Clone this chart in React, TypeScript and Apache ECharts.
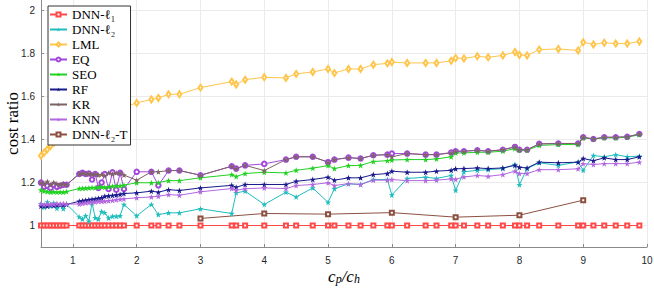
import React, { useEffect, useRef } from "react";
import * as echarts from "echarts";

const X = [
  0.5, 0.55, 0.6, 0.65, 0.7, 0.75, 0.8, 0.85, 0.9,
  1.1, 1.15, 1.2, 1.25, 1.3, 1.35, 1.4, 1.45,
  1.5, 1.56, 1.62, 1.68, 1.74, 1.8,
  2.0, 2.23, 2.34, 2.5, 2.67,
  3.0, 3.49, 3.56, 3.7,
  4.0, 4.34, 4.5, 4.76,
  5.0, 5.1, 5.32, 5.51, 5.71, 5.93,
  6.0, 6.24, 6.53, 6.7, 6.93,
  7.0, 7.13, 7.34, 7.51, 7.74, 7.93,
  8.0, 8.12, 8.31, 8.61, 8.92,
  9.0, 9.16, 9.33, 9.51, 9.69, 9.88,
];

const DNN_L1 = [
  1, 1, 1, 1, 1, 1, 1, 1, 1,
  1, 1, 1, 1, 1, 1, 1, 1,
  1, 1, 1, 1, 1, 1,
  1, 1, 1, 1, 1,
  1, 1, 1, 1,
  1, 1, 1, 1,
  1, 1, 1, 1, 1, 1,
  1, 1, 1, 1, 1,
  1, 1, 1, 1, 1, 1,
  1, 1, 1, 1, 1,
  1, 1, 1, 1, 1, 1,
];

const DNN_L2 = [
  1.1, 1.085, 1.11, 1.09, 1.105, 1.08, 1.095, 1.078, 1.1,
  1.04, 1.03, 1.045, 1.02, 1.106, 1.036, 1.03, 1.065,
  1.06, 1.035, 1.043, 1.043, 1.045, 1.098,
  1.045, 1.098, 1.051, 1.059, 1.059,
  1.078, 1.056, 1.152, 1.16,
  1.098, 1.155, 1.133, 1.175,
  1.108, 1.171, 1.194, 1.191, 1.214, 1.214,
  1.142, 1.219, 1.225, 1.219, 1.233,
  1.164, 1.25, 1.257, 1.26, 1.265, 1.284,
  1.19, 1.265, 1.292, 1.28, 1.296,
  1.257, 1.326, 1.32, 1.33, 1.32, 1.323,
];

const LML = [
  1.325, 1.34, 1.355, 1.37, 1.385, 1.395, 1.405, 1.415, 1.42,
  1.45, 1.46, 1.47, 1.48, 1.49, 1.495, 1.5, 1.505,
  1.51, 1.52, 1.525, 1.535, 1.54, 1.55,
  1.571, 1.587, 1.594, 1.611, 1.611,
  1.642, 1.67, 1.657, 1.679,
  1.69, 1.687, 1.706, 1.715,
  1.729, 1.71, 1.729, 1.729, 1.749, 1.755,
  1.761, 1.757, 1.757, 1.757, 1.767,
  1.78, 1.778, 1.788, 1.783, 1.792, 1.808,
  1.794, 1.792, 1.819, 1.822, 1.815,
  1.853, 1.843, 1.851, 1.847, 1.847, 1.857,
];

const EQ = [
  1.2, 1.18, 1.185, 1.175, 1.19, 1.18, 1.185, 1.19, 1.19,
  1.24, 1.245, 1.24, 1.242, 1.214, 1.24, 1.175, 1.2,
  1.24, 1.17, 1.248, 1.167, 1.245, 1.17,
  1.25, 1.25, 1.187, 1.256, 1.256,
  1.234, 1.276, 1.265, 1.28,
  1.287, 1.307, 1.32, 1.32,
  1.295, 1.307, 1.316, 1.312, 1.327, 1.33,
  1.335, 1.335, 1.33, 1.33, 1.34,
  1.346, 1.346, 1.35, 1.346, 1.353, 1.366,
  1.353, 1.353, 1.38, 1.382, 1.382,
  1.411, 1.403, 1.411, 1.411, 1.413, 1.426,
];

const SEO = [
  1.165, 1.16, 1.158, 1.155, 1.157, 1.155, 1.156, 1.155, 1.158,
  1.172, 1.173, 1.174, 1.175, 1.177, 1.176, 1.179, 1.18,
  1.178, 1.18, 1.183, 1.185, 1.185, 1.188,
  1.199, 1.199, 1.2, 1.209, 1.209,
  1.222, 1.237, 1.228, 1.242,
  1.248, 1.245, 1.257, 1.267,
  1.279, 1.265, 1.279, 1.28, 1.298, 1.302,
  1.305, 1.307, 1.307, 1.31, 1.32,
  1.338, 1.338, 1.341, 1.341, 1.346, 1.358,
  1.35, 1.35, 1.373, 1.377, 1.377,
  1.408, 1.403, 1.408, 1.408, 1.411, 1.423,
];

const RF = [
  1.09, 1.092, 1.09, 1.095, 1.093, 1.095, 1.097, 1.096, 1.098,
  1.113, 1.115, 1.118, 1.12, 1.122, 1.124, 1.127, 1.129,
  1.136, 1.138, 1.14, 1.142, 1.145, 1.149,
  1.152, 1.16, 1.155, 1.167, 1.163,
  1.175, 1.187, 1.178, 1.191,
  1.191, 1.191, 1.206, 1.214,
  1.225, 1.211, 1.222, 1.222, 1.237, 1.242,
  1.253, 1.248, 1.248, 1.253, 1.257,
  1.264, 1.265, 1.268, 1.265, 1.268, 1.28,
  1.271, 1.268, 1.295, 1.292, 1.295,
  1.312, 1.302, 1.315, 1.307, 1.307, 1.32,
];

const KR = [
  1.2, 1.195, 1.205, 1.19, 1.2, 1.195, 1.19, 1.195, 1.19,
  1.24, 1.245, 1.24, 1.242, 1.238, 1.24, 1.235, 1.238,
  1.232, 1.245, 1.24, 1.245, 1.245, 1.235,
  1.211, 1.25, 1.25, 1.256, 1.256,
  1.234, 1.276, 1.265, 1.28,
  1.256, 1.307, 1.32, 1.32,
  1.295, 1.307, 1.316, 1.312, 1.327, 1.33,
  1.32, 1.335, 1.33, 1.33, 1.338,
  1.346, 1.346, 1.35, 1.346, 1.353, 1.366,
  1.353, 1.353, 1.38, 1.382, 1.382,
  1.411, 1.403, 1.411, 1.411, 1.413, 1.426,
];

const KNN = [
  1.1, 1.097, 1.1, 1.098, 1.1, 1.102, 1.1, 1.103, 1.1,
  1.1, 1.103, 1.105, 1.107, 1.108, 1.11, 1.112, 1.113,
  1.113, 1.115, 1.117, 1.12, 1.122, 1.124,
  1.129, 1.133, 1.136, 1.144, 1.141,
  1.157, 1.172, 1.164, 1.171,
  1.175, 1.172, 1.186, 1.191,
  1.199, 1.186, 1.195, 1.191, 1.211, 1.211,
  1.214, 1.209, 1.209, 1.211, 1.217,
  1.215, 1.226, 1.233, 1.229, 1.237, 1.253,
  1.242, 1.242, 1.26, 1.26, 1.264,
  1.288, 1.284, 1.288, 1.288, 1.288, 1.295,
];

const T_X = [3, 4, 5, 6, 7, 8, 9];
const DNN_L2_T = [1.033, 1.056, 1.053, 1.06, 1.039, 1.048, 1.118];

const X_TICKS = [1, 2, 3, 4, 5, 6, 7, 8, 9, 10];
const Y_TICKS = [1, 1.2, 1.4, 1.6, 1.8, 2];

const STAR =
  "path://M0,-10L2.35,-3.24L9.51,-3.09L3.8,1.24L5.88,8.09L0,4L-5.88,8.09L-3.8,1.24L-9.51,-3.09L-2.35,-3.24Z";

const SERIES_DEF = [
  { name: "DNN-ℓ₁", xs: X, ys: DNN_L1, color: "#ff4848", symbol: "emptyRect", size: 4 },
  { name: "DNN-ℓ₂", xs: X, ys: DNN_L2, color: "#1fbdbd", symbol: STAR, size: 6 },
  { name: "LML", xs: X, ys: LML, color: "#ffc44a", symbol: "emptyDiamond", size: [4, 6] },
  { name: "EQ", xs: X, ys: EQ, color: "#a347dc", symbol: "emptyCircle", size: 4.5 },
  { name: "SEO", xs: X, ys: SEO, color: "#1fd21f", symbol: STAR, size: 6 },
  { name: "RF", xs: X, ys: RF, color: "#1a1a8c", symbol: STAR, size: 6 },
  { name: "KR", xs: X, ys: KR, color: "#7d6363", symbol: STAR, size: 6 },
  { name: "KNN", xs: X, ys: KNN, color: "#b266e0", symbol: STAR, size: 6 },
  { name: "DNN-ℓ₂-T", xs: T_X, ys: DNN_L2_T, color: "#8c5040", symbol: "emptyRect", size: 4 },
];

const AXIS_COLOR = "#8a8a8a";
const GRID_COLOR = "#ebebeb";

export default function App() {
  const ref = useRef<HTMLDivElement>(null);

  useEffect(() => {
    if (!ref.current) return;
    const chart = echarts.init(ref.current, null, { renderer: "svg" });
    const series = SERIES_DEF.map((s) => ({
      name: s.name,
      type: "line",
      data: s.xs.map((x, i) => [x, s.ys[i]]),
      symbol: s.symbol,
      symbolSize: s.size,
      showSymbol: true,
      color: s.color,
      lineStyle: { color: s.color, width: 1 },
      itemStyle: { color: s.color, borderWidth: 1 },
      emphasis: { disabled: true },
      clip: true,
    }));
    chart.setOption({
      animation: false,
      backgroundColor: "#ffffff",
      grid: {
        left: 41,
        right: 7,
        top: 0,
        bottom: 42,
        containLabel: false,
        outerBoundsMode: "none",
      },
      legend: {
        orient: "vertical",
        left: 48,
        top: 6,
        backgroundColor: "#ffffff",
        borderColor: "#333333",
        borderWidth: 1,
        padding: [1, 3, 3, 1],
        itemWidth: 17,
        itemHeight: 5,
        itemGap: 0,
        selectedMode: false,
        textStyle: {
          fontFamily: "Liberation Serif",
          fontSize: 13,
          color: "#000000",
          lineHeight: 15,
        },
        data: SERIES_DEF.map((s) => s.name),
      },
      xAxis: {
        type: "value",
        min: 0.5,
        max: 10,
        name: "{i|c}{s|p}{i|/c}{s|h}",
        nameLocation: "middle",
        nameGap: 20,
        nameMoveOverlap: false,
        nameTextStyle: {
          rich: {
            i: {
              fontFamily: "Liberation Serif",
              fontStyle: "italic",
              fontSize: 17,
              lineHeight: 18,
              color: "#000",
            },
            s: {
              fontFamily: "Liberation Serif",
              fontStyle: "italic",
              fontSize: 12,
              lineHeight: 18,
              verticalAlign: "bottom",
              color: "#000",
            },
          },
        },
        axisLine: { show: true, lineStyle: { color: AXIS_COLOR, width: 1 } },
        axisTick: {
          show: true,
          inside: true,
          length: 3,
          lineStyle: { color: AXIS_COLOR },
          customValues: X_TICKS,
        },
        axisLabel: {
          customValues: X_TICKS,
          fontFamily: "Liberation Sans",
          fontSize: 10,
          color: "#262626",
          margin: 8,
        },
        splitLine: { show: true, lineStyle: { color: GRID_COLOR, width: 1 } },
      },
      yAxis: {
        type: "value",
        min: 0.9,
        max: 2.05,
        name: "cost ratio",
        nameLocation: "middle",
        nameGap: 20,
        nameMoveOverlap: false,
        nameTextStyle: {
          fontFamily: "Liberation Serif",
          fontSize: 17,
          color: "#000",
        },
        axisLine: { show: true, lineStyle: { color: AXIS_COLOR, width: 1 } },
        axisTick: {
          show: true,
          inside: true,
          length: 3,
          lineStyle: { color: AXIS_COLOR },
          customValues: Y_TICKS,
        },
        axisLabel: {
          customValues: Y_TICKS,
          fontFamily: "Liberation Sans",
          fontSize: 10,
          color: "#262626",
          margin: 6,
        },
        splitLine: { show: true, lineStyle: { color: GRID_COLOR, width: 1 } },
      },
      series,
    });
    return () => chart.dispose();
  }, []);

  return (
    <div
      ref={ref}
      style={{ position: "fixed", left: 0, top: 0, width: 654, height: 289 }}
    />
  );
}
